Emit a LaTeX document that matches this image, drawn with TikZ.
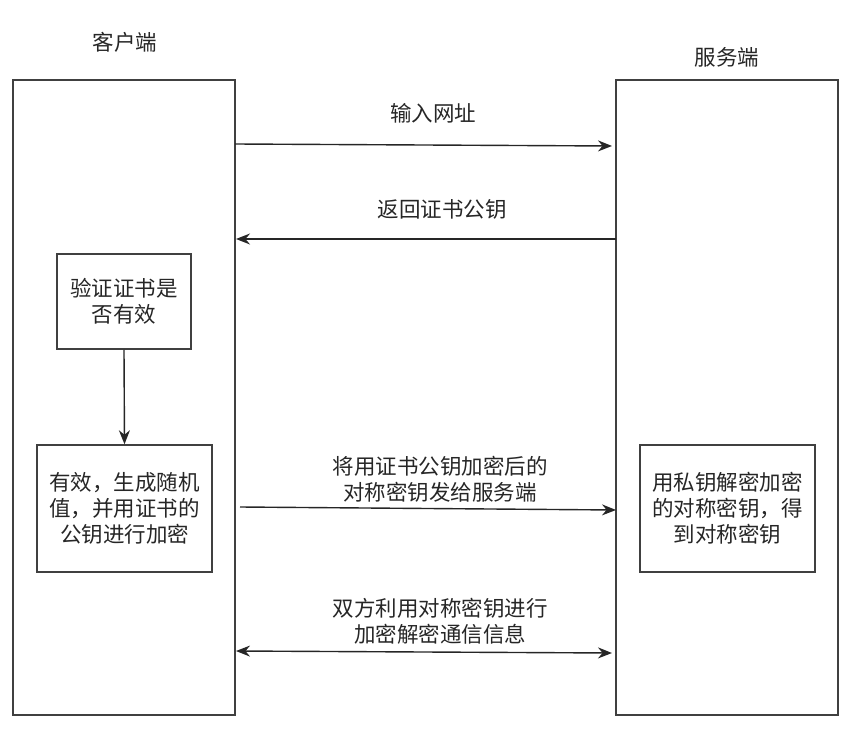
\documentclass[tikz,border=0pt]{standalone}
\usepackage{fontspec}
\newfontfamily\cjk{Noto Sans CJK SC}
\usetikzlibrary{arrows.meta}
\begin{document}
\begin{tikzpicture}[x=1pt,y=-1pt,
  every node/.style={font=\cjk\fontsize{21.5}{26}\selectfont, text=black!85, inner sep=0pt},
  lane/.style={draw=black!75, line width=1.5pt, fill=white},
  stepbox/.style={draw=black!75, line width=1.5pt, fill=white, align=center},
  msg/.style={draw=black!85, line width=1.4pt, -{Stealth[length=14pt,width=11pt]}},
  lbl/.style={align=center}]
  \useasboundingbox (0,0) rectangle (862,738);

  % swimlanes
  \draw[lane] (13,80) rectangle (235,715);
  \draw[lane] (616,80) rectangle (838,715);
  \node (client) at (125,42) {客户端};
  \node (server) at (727,57) {服务端};

  % lifeline anchors
  \coordinate (c1) at (235,144);
  \coordinate (s1) at (612,146);
  \coordinate (s2) at (616,239);
  \coordinate (c2) at (236,239);
  \coordinate (c3) at (240,507);
  \coordinate (s3) at (616,510);
  \coordinate (c4) at (236,651);
  \coordinate (s4) at (612,653);

  % client steps
  \node[stepbox, minimum width=134pt, minimum height=95pt] (verify) at (124,301.5) {验证证书是\\否有效};
  \node[stepbox, minimum width=175pt, minimum height=127pt] (gen) at (124.5,508.5) {有效，生成随机\\值，并用证书的\\公钥进行加密};
  % server step
  \node[stepbox, minimum width=175pt, minimum height=127pt] (dec) at (727.5,508.5) {用私钥解密加密\\的对称密钥，得\\到对称密钥};

  \draw[msg] (verify.south) -- (gen.north);

  % messages
  \draw[msg] (c1) -- (s1);
  \node[lbl] (m1) at (433,113) {输入网址};
  \draw[msg] (s2) -- (c2);
  \node[lbl] (m2) at (442,209) {返回证书公钥};
  \draw[msg] (c3) -- (s3);
  \node[lbl] (m3) at (440,479) {将用证书公钥加密后的\\对称密钥发给服务端};
  \draw[msg, {Stealth[length=14pt,width=11pt]}-{Stealth[length=14pt,width=11pt]}] (c4) -- (s4);
  \node[lbl] (m4) at (440,621) {双方利用对称密钥进行\\加密解密通信信息};
\end{tikzpicture}
\end{document}
